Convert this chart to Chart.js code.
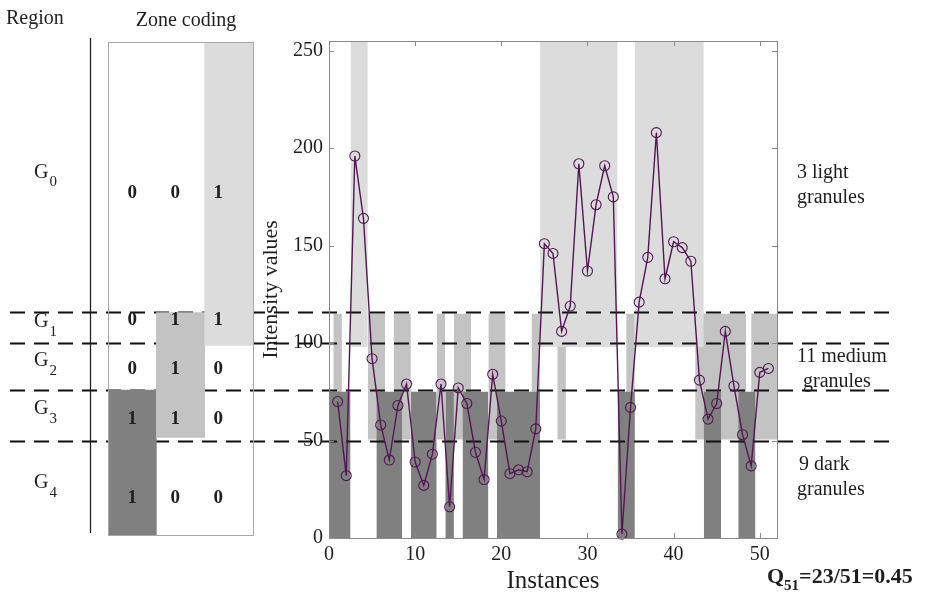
<!DOCTYPE html>
<html>
<head>
<meta charset="utf-8">
<script src="https://cdn.jsdelivr.net/npm/chart.js@4.4.1/dist/chart.umd.min.js"></script>
<style>
  html, body { margin: 0; padding: 0; background: #fff; }
  #wrap { position: relative; width: 930px; height: 594px; }
  .layer { position: absolute; left: 0; top: 0; width: 930px; height: 594px; }
  #zoneLayer { pointer-events: none; }
</style>
</head>
<body>
<div id="wrap">
  <div class="layer"><canvas id="main"></canvas></div>
  <div class="layer" id="zoneLayer"><canvas id="zones"></canvas></div>
</div>
<script>
// --- data ---------------------------------------------------------------
const instances = [1, 2, 3, 4, 5, 6, 7, 8, 9, 10, 11, 12, 13, 14, 15, 16, 17,
  18, 19, 20, 21, 22, 23, 24, 25, 26, 27, 28, 29, 30, 31, 32, 33, 34, 35, 36,
  37, 38, 39, 40, 41, 42, 43, 44, 45, 46, 47, 48, 49, 50, 51];
const intensity = [70, 32, 196, 164, 92, 58, 40, 68, 79, 39, 27, 43, 79, 16,
  77, 69, 44, 30, 84, 60, 33, 35, 34, 56, 151, 146, 106, 119, 192, 137, 171,
  191, 175, 2, 67, 121, 144, 208, 133, 152, 149, 142, 81, 61, 69, 106, 78, 53,
  37, 85, 87];

// granules: [first instance edge, last instance edge]
const lightSpans = [[2.5, 4.5], [24.5, 33.5], [35.5, 43.5]];
const mediumSpans = [[0.5, 1.5], [4.5, 6.5], [7.5, 9.5], [12.5, 13.5],
  [14.5, 16.5], [18.5, 20.5], [23.5, 24.5], [26.5, 27.5], [34.5, 35.5],
  [42.5, 48.4], [49, 52]];
const darkSpans = [[0, 2.5], [5.5, 8.5], [9.5, 12.5], [13.5, 14.5],
  [15.5, 18.5], [19.5, 24.5], [33.5, 35.5], [43.5, 45.5], [47.5, 49.5]];

// intensity range covered by each kind of granule
const lightBand = [98, 255];
const mediumBand = [50.5, 115];
const darkBand = [0, 75];

// region boundaries (dashed lines) and zone coding table
const zoneLines = [116, 100, 76, 50];
const regionNames = ['0', '1', '2', '3', '4'];
const regionBounds = [[116, 255], [100, 116], [76, 100], [50, 76], [0, 50]];
const zoneCodes = [[0, 0, 1], [0, 1, 1], [0, 1, 0], [1, 1, 0], [1, 0, 0]];
const zoneColumns = ['dark', 'medium', 'light'];

const xTickValues = [0, 10, 20, 30, 40, 50];
const yTickValues = [0, 50, 100, 150, 200, 250];

// --- style ----------------------------------------------------------------
const SERIF = '"Liberation Serif", "Times New Roman", serif';
const LIGHT = '#dcdcdc';
const MEDIUM = '#c3c3c3';
const DARK = '#808080';
const PURPLE = '#521753';
const INK = '#1e1e1e';

// rectangles as filled step segments, broken by null gaps
function bandData(spans, top) {
  return spans.flatMap(([a, b]) => [{ x: a, y: top }, { x: b, y: top }, { x: b, y: null }]);
}

function bandDataset(spans, band, color, order) {
  return {
    data: bandData(spans, band[1]),
    borderWidth: 0,
    borderColor: 'transparent',
    backgroundColor: color,
    pointRadius: 0,
    tension: 0,
    spanGaps: false,
    fill: { value: band[0] },
    order,
  };
}

const granuleText = [
  { lines: [lightSpans.length + ' light', 'granules'], x: [797, 797], y: 173 },
  { lines: [mediumSpans.length + ' medium', 'granules'], x: [797, 803], y: 357 },
  { lines: [darkSpans.length + ' dark', 'granules'], x: [799, 797], y: 465 },
];

// dashed region lines run across the whole figure, under the curve
const dashedLines = {
  id: 'dashedLines',
  beforeDatasetDraw(chart, args) {
    if (args.index !== 0) return;
    const { ctx, scales: { y } } = chart;
    ctx.save();
    ctx.strokeStyle = '#111';
    ctx.lineWidth = 1.8;
    ctx.setLineDash([15, 9]);
    zoneLines.forEach(v => {
      const py = Math.round(y.getPixelForValue(v)) + 0.5;
      ctx.beginPath();
      ctx.moveTo(10, py);
      ctx.lineTo(890, py);
      ctx.stroke();
    });
    ctx.restore();
  },
};

// matlab-ish box with inward ticks, plus the right-hand notes
const frame = {
  id: 'frame',
  afterDraw(chart) {
    const { ctx, chartArea: a, scales: { x, y } } = chart;
    ctx.save();
    ctx.strokeStyle = '#8a8a8a';
    ctx.lineWidth = 1;
    ctx.strokeRect(a.left + 0.5, a.top + 0.5, a.right - a.left, a.bottom - a.top);
    ctx.beginPath();
    xTickValues.forEach(v => {
      const px = Math.round(x.getPixelForValue(v)) + 0.5;
      ctx.moveTo(px, a.bottom); ctx.lineTo(px, a.bottom - 5);
      ctx.moveTo(px, a.top); ctx.lineTo(px, a.top + 5);
    });
    yTickValues.forEach(v => {
      const py = Math.round(y.getPixelForValue(v)) + 0.5;
      ctx.moveTo(a.left, py); ctx.lineTo(a.left + 5, py);
      ctx.moveTo(a.right, py); ctx.lineTo(a.right - 5, py);
    });
    ctx.stroke();

    ctx.fillStyle = INK;
    ctx.textBaseline = 'middle';
    ctx.textAlign = 'left';
    ctx.font = '20px ' + SERIF;
    granuleText.forEach(g => {
      ctx.fillText(g.lines[0], g.x[0], g.y);
      ctx.fillText(g.lines[1], g.x[1], g.y + 25);
    });

    // Q_n = granules / instances
    const total = lightSpans.length + mediumSpans.length + darkSpans.length;
    const n = instances.length;
    let qx = 767;
    ctx.font = 'bold 22px ' + SERIF;
    ctx.fillText('Q', qx, 577);
    qx += ctx.measureText('Q').width;
    ctx.font = 'bold 15px ' + SERIF;
    ctx.fillText(String(n), qx, 586);
    qx += ctx.measureText(String(n)).width;
    ctx.font = 'bold 22px ' + SERIF;
    ctx.fillText('=' + total + '/' + n + '=' + (total / n).toFixed(2), qx, 577);
    ctx.restore();
  },
};

new Chart(document.getElementById('main'), {
  type: 'line',
  data: {
    datasets: [
      {
        data: instances.map((v, i) => ({ x: v, y: intensity[i] })),
        borderColor: PURPLE,
        borderWidth: 1.4,
        pointRadius: 5,
        pointBorderWidth: 1.1,
        pointBorderColor: PURPLE,
        pointBackgroundColor: 'transparent',
        tension: 0,
        fill: false,
        clip: 8,
        order: 0,
      },
      bandDataset(darkSpans, darkBand, DARK, 1),
      bandDataset(lightSpans, lightBand, LIGHT, 2),
      bandDataset(mediumSpans, mediumBand, MEDIUM, 3),
    ],
  },
  options: {
    responsive: true,
    maintainAspectRatio: false,
    animation: false,
    events: [],
    layout: { padding: { left: 0, right: 153, top: 41, bottom: 0 } },
    scales: {
      x: {
        type: 'linear',
        min: 0,
        max: 52,
        afterBuildTicks: s => { s.ticks = xTickValues.map(v => ({ value: v })); },
        afterFit: s => { s.height = 56; },
        grid: { display: false, drawTicks: false },
        border: { display: false },
        ticks: { padding: 5, color: INK, font: { family: SERIF, size: 20 }, maxRotation: 0, autoSkip: false },
        title: { display: true, text: 'Instances', color: INK, font: { family: SERIF, size: 25, lineHeight: 1 }, padding: 0 },
      },
      y: {
        type: 'linear',
        min: 0,
        max: 255,
        afterBuildTicks: s => { s.ticks = yTickValues.map(v => ({ value: v })); },
        afterFit: s => { s.width = 329; },
        grid: { display: false, drawTicks: false },
        border: { display: false },
        ticks: { padding: 6, color: INK, font: { family: SERIF, size: 20 } },
        title: { display: true, text: 'Intensity values', color: INK, font: { family: SERIF, size: 22, lineHeight: 1 }, padding: { top: 260, bottom: 0 } },
      },
    },
    plugins: { legend: { display: false }, tooltip: { enabled: false } },
  },
  plugins: [dashedLines, frame],
});

// --- zone coding table on the left ---------------------------------------
const zoneTable = {
  id: 'zoneTable',
  afterDraw(chart) {
    const { ctx, chartArea: a, scales: { x, y } } = chart;
    ctx.save();
    ctx.strokeStyle = '#a8a8a8';
    ctx.lineWidth = 1;
    ctx.strokeRect(a.left + 0.5, a.top + 0.5, a.right - a.left, a.bottom - a.top);

    // region axis
    ctx.strokeStyle = '#222';
    ctx.lineWidth = 1.3;
    ctx.beginPath();
    ctx.moveTo(90.5, a.top - 4);
    ctx.lineTo(90.5, a.bottom - 2);
    ctx.stroke();

    ctx.fillStyle = INK;
    ctx.textBaseline = 'middle';
    ctx.font = '20px ' + SERIF;
    ctx.textAlign = 'left';
    ctx.fillText('Region', 6, 19);
    ctx.textAlign = 'center';
    ctx.fillText('Zone coding', 186, 21);

    // code digits (sit a bit low and left in each cell, as in the source)
    const rowText = [177, 111, 86, 60, 19];
    ctx.font = 'bold 19px ' + SERIF;
    zoneCodes.forEach((row, r) => {
      const py = y.getPixelForValue(rowText[r]);
      row.forEach((c, i) => ctx.fillText(String(c), x.getPixelForValue(i * 0.89), py));
    });

    // G labels with subscripts
    ctx.textAlign = 'left';
    regionBounds.forEach(([lo, hi], r) => {
      const py = y.getPixelForValue((lo + hi) / 2);
      ctx.font = '20px ' + SERIF;
      ctx.fillText('G', 34, py - 4);
      const w = ctx.measureText('G').width;
      ctx.font = '15px ' + SERIF;
      ctx.fillText(regionNames[r], 34 + w + 1, py + 6);
    });
    ctx.restore();
  },
};

new Chart(document.getElementById('zones'), {
  type: 'bar',
  data: {
    labels: zoneColumns,
    datasets: [{
      data: [darkBand, mediumBand, lightBand],
      backgroundColor: [DARK, MEDIUM, LIGHT],
      borderWidth: 0,
      barPercentage: 1,
      categoryPercentage: 1,
    }],
  },
  options: {
    responsive: true,
    maintainAspectRatio: false,
    animation: false,
    events: [],
    layout: { padding: { left: 108, right: 677, top: 42, bottom: 59 } },
    scales: {
      x: { display: false },
      y: { display: false, min: 0, max: 255 },
    },
    plugins: { legend: { display: false }, tooltip: { enabled: false } },
  },
  plugins: [zoneTable],
});
</script>
</body>
</html>
